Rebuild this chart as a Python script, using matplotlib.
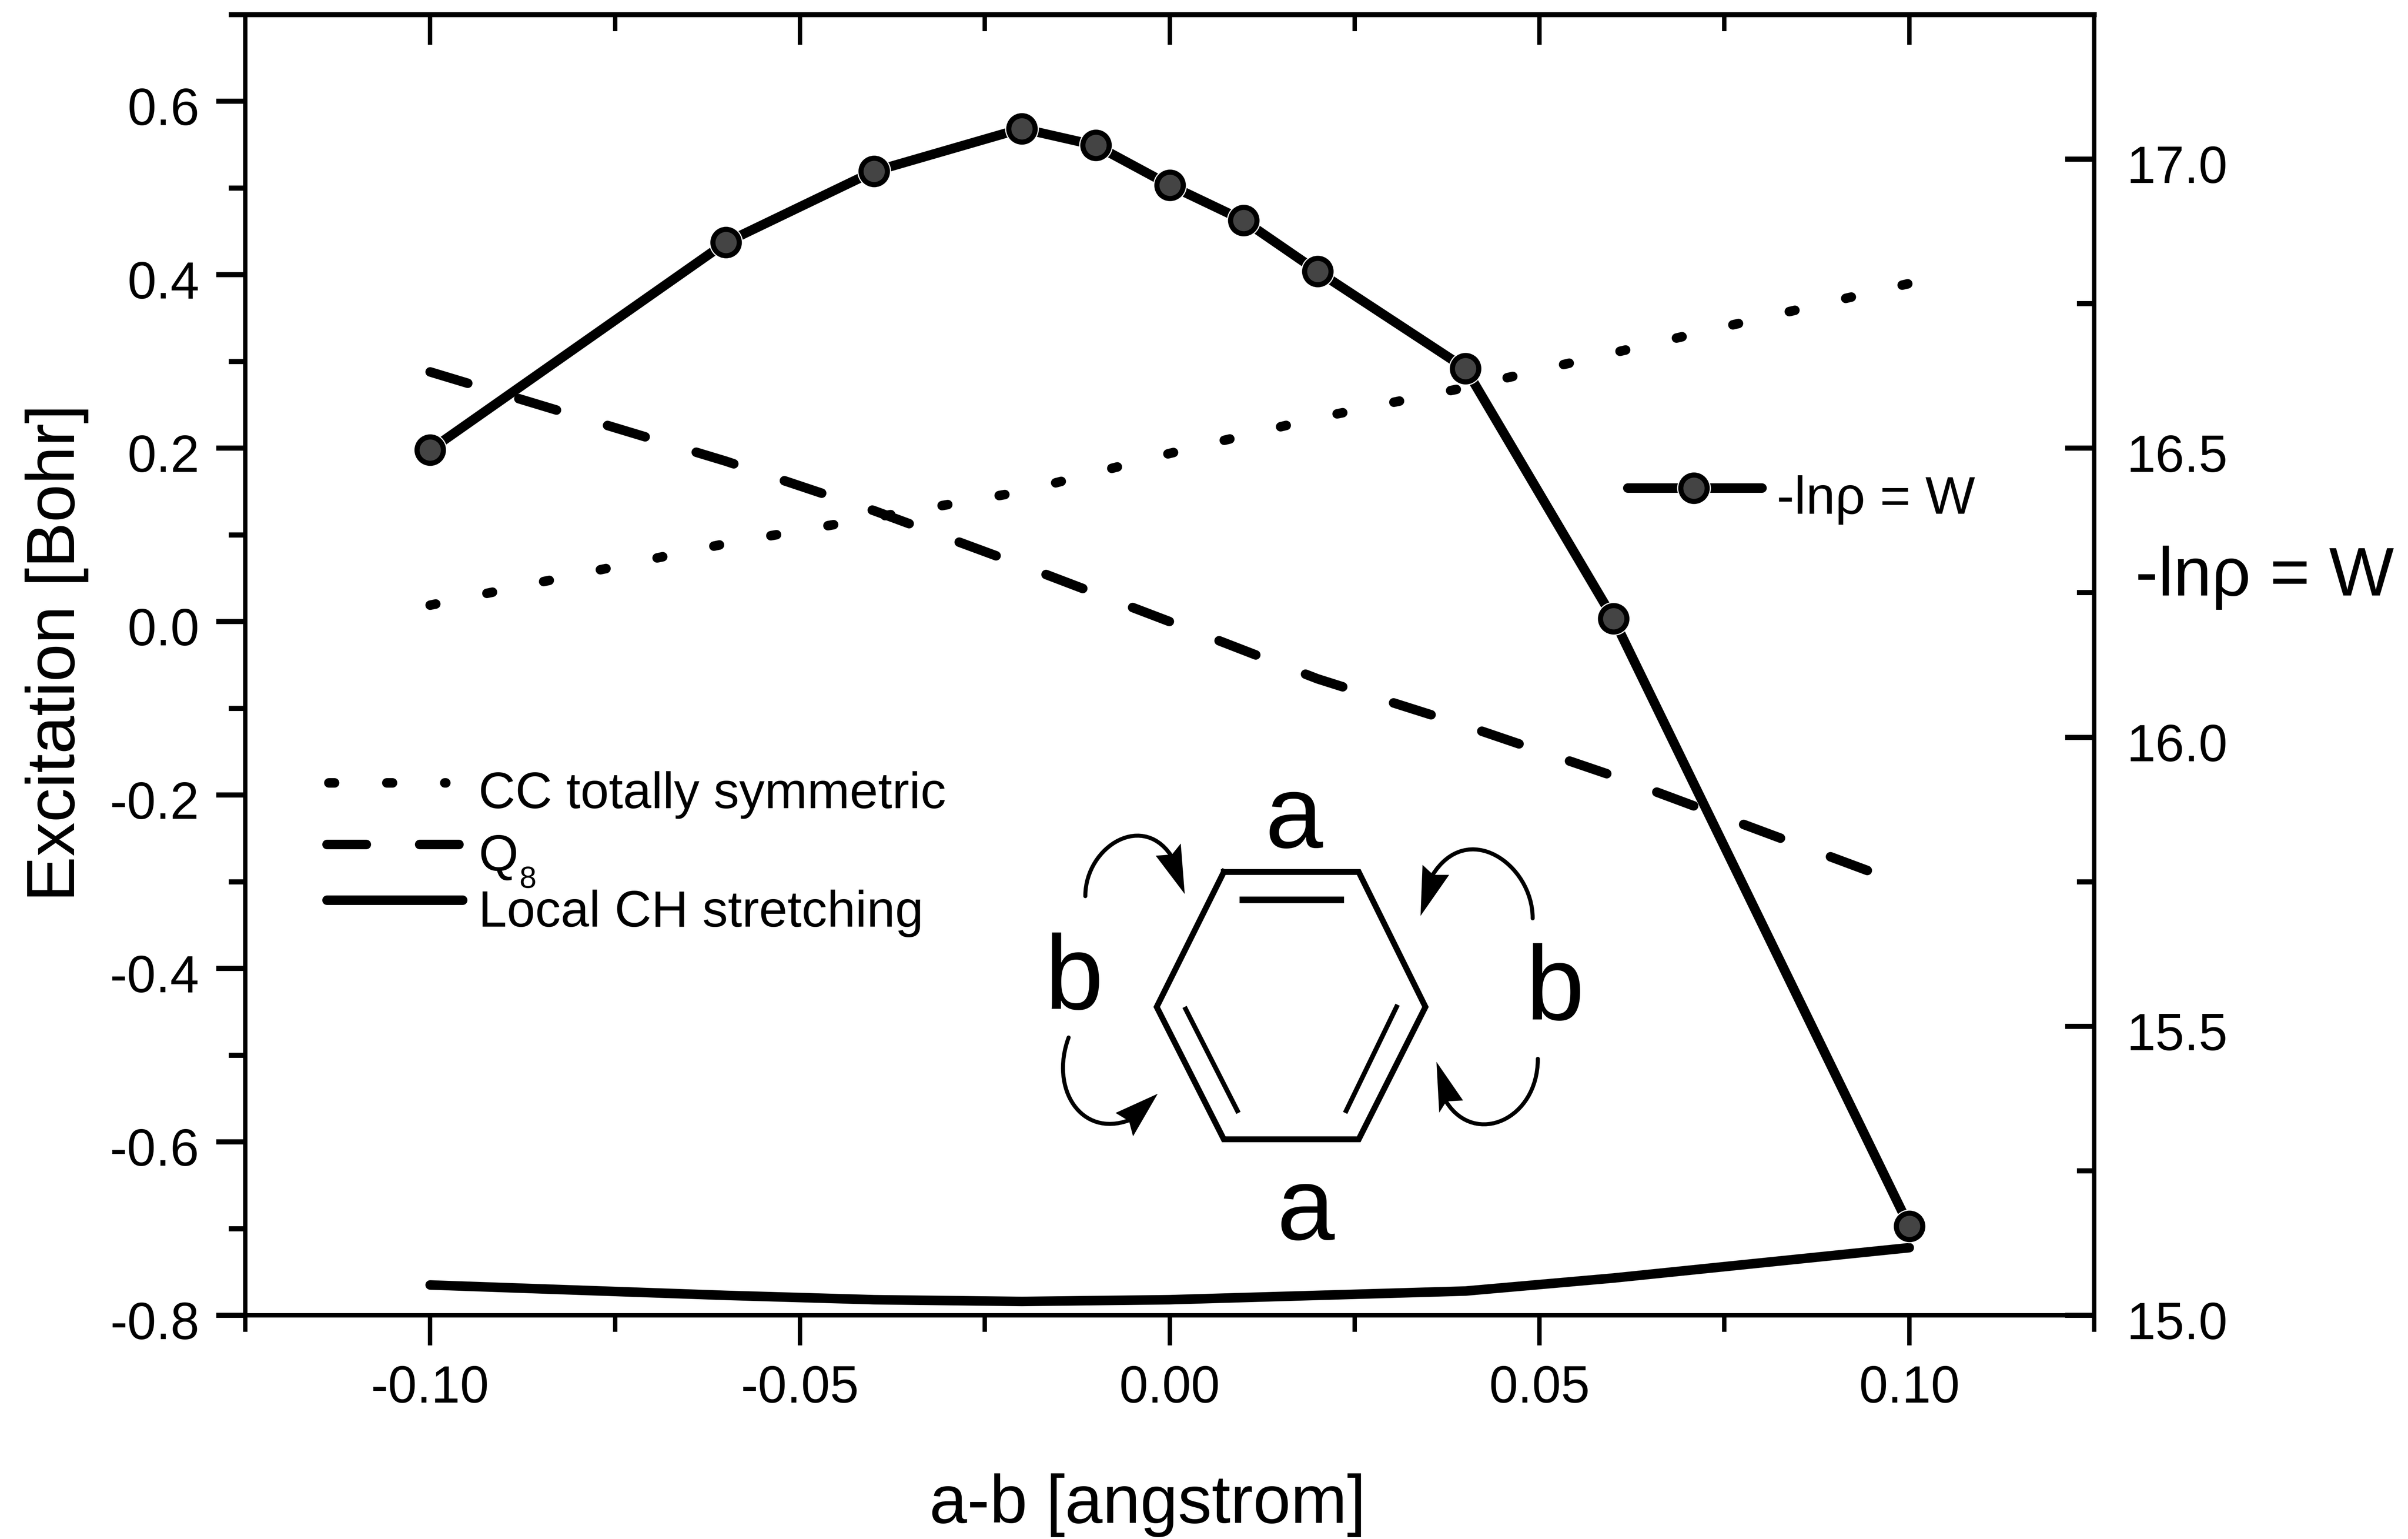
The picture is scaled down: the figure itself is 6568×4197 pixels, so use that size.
import numpy as np
import matplotlib
matplotlib.use('Agg')
import matplotlib.pyplot as plt
from matplotlib.lines import Line2D
from matplotlib.patches import PathPatch, Polygon
from matplotlib.path import Path
from matplotlib.transforms import ScaledTranslation

plt.rcParams['font.family'] = ['Liberation Sans', 'DejaVu Sans']
plt.rcParams['axes.unicode_minus'] = False

W, H, DPI = 6568, 4197, 300

# Data
x_w = [-0.10, -0.06, -0.04, -0.02, -0.01, 0.00, 0.01, 0.02, 0.04, 0.06, 0.10]
y_w = [16.497, 16.856, 16.979, 17.053, 17.024, 16.955, 16.894, 16.806, 16.638, 16.205, 15.154]

x_modes = [-0.10, -0.06, -0.04, -0.02, 0.00, 0.02, 0.04, 0.06, 0.10]
y_cc = [0.019, 0.090, 0.120, 0.150, 0.194, 0.235, 0.270, 0.310, 0.390]
y_q8 = [0.288, 0.185, 0.128, 0.065, 0.000, -0.066, -0.120, -0.178, -0.305]
y_ch = [-0.765, -0.777, -0.782, -0.784, -0.782, -0.777, -0.772, -0.757, -0.722]

x_major = [-0.10, -0.05, 0.00, 0.05, 0.10]
x_major_labels = ['-0.10', '-0.05', '0.00', '0.05', '0.10']
x_minor = [-0.125, -0.075, -0.025, 0.025, 0.075, 0.125]
x_minor_top = [-0.075, -0.025, 0.025, 0.075]
y_major = [-0.8, -0.6, -0.4, -0.2, 0.0, 0.2, 0.4, 0.6]
y_major_labels = ['-0.8', '-0.6', '-0.4', '-0.2', '0.0', '0.2', '0.4', '0.6']
y_minor = [-0.7, -0.5, -0.3, -0.1, 0.1, 0.3, 0.5, 0.7]
w_major = [15.0, 15.5, 16.0, 16.5, 17.0]
w_major_labels = ['15.0', '15.5', '16.0', '16.5', '17.0']
w_minor = [15.25, 15.75, 16.25, 16.75]

legend_labels = ['CC totally symmetric', 'Q', 'Local CH stretching']


def pt(px):
    return px * 72.0 / DPI


def fig_xy(x, y):
    return x / W, 1 - y / H


fig = plt.figure(figsize=(W / DPI, H / DPI), dpi=DPI)
L, R, T, B = 669, 5712, 40, 3587
ax = fig.add_axes([L / W, 1 - B / H, (R - L) / W, (B - T) / H])
ax_top = ax.twiny()
ax_w = ax.twinx()

LW = pt(26)
dash_q8 = (0, (4.12, 5.6))
dot_cc = (0, (0.6, 5.48))

# kurven
ax.plot(x_modes, y_cc, color='k', lw=LW, ls=dot_cc, dash_capstyle='round')
ax.plot(x_modes, y_q8, color='k', lw=LW, ls=dash_q8, dash_capstyle='round')
ax.plot(x_modes, y_ch, color='k', lw=LW, solid_capstyle='round')

ax_w.plot(x_w, y_w, color='k', lw=LW, solid_capstyle='round')
ax_w.plot(x_w, y_w, ls='none', marker='o', ms=pt(92), mfc='w', mec='none')
ax_w.plot(x_w, y_w, ls='none', marker='o', ms=pt(72), mfc='#444444', mec='k', mew=pt(14))

ax.set_xlim(-0.125, 0.125)
ax.set_ylim(-0.8, 0.7)
ax_top.set_xlim(-0.125, 0.125)
ax_w.set_ylim(15.0, 17.25)

ax.set_xticks(x_major, x_major_labels)
ax.set_xticks(x_minor, minor=True)
ax.set_yticks(y_major, y_major_labels)
ax.set_yticks(y_minor, minor=True)
ax_top.set_xticks(x_major, [])
ax_top.set_xticks(x_minor_top, minor=True)
ax_w.set_yticks(w_major, w_major_labels)
ax_w.set_yticks(w_minor, minor=True)

FS_TICK = 34
ax.tick_params(axis='x', which='major', direction='out', length=pt(82), width=pt(12), pad=pt(52), labelsize=FS_TICK)
ax.tick_params(axis='x', which='minor', direction='out', length=pt(45), width=pt(12))
ax.tick_params(axis='y', which='major', direction='out', length=pt(79), width=pt(14), pad=pt(46), labelsize=FS_TICK)
ax.tick_params(axis='y', which='minor', direction='out', length=pt(45), width=pt(14))
ax_top.tick_params(axis='x', which='major', direction='in', length=pt(82), width=pt(12))
ax_top.tick_params(axis='x', which='minor', direction='in', length=pt(45), width=pt(12))
ax_w.tick_params(axis='y', which='major', direction='in', length=pt(79), width=pt(14), pad=pt(88), labelsize=FS_TICK)
ax_w.tick_params(axis='y', which='minor', direction='in', length=pt(47), width=pt(14))

# Labels der y-Achsen sitzen etwas unter dem Tick
shift = ScaledTranslation(0, -13 / DPI, fig.dpi_scale_trans)
for lab in ax.get_yticklabels() + ax_w.get_yticklabels():
    lab.set_transform(lab.get_transform() + shift)

for a in (ax, ax_top, ax_w):
    for name, s in a.spines.items():
        s.set_linewidth(pt(14) if name == 'top' else pt(12))

ax.set_xlabel('a-b [angstrom]', fontsize=44.3, va='baseline')
ax.xaxis.set_label_coords((3130 - L) / (R - L), (B - 4153) / (B - T))
ax.set_ylabel('Excitation [Bohr]', fontsize=44.7, va='baseline')
ax.yaxis.set_label_coords((203 - L) / (R - L), (B - 1781) / (B - T))
ax_w.set_ylabel('-ln\u03c1 = W', fontsize=45, rotation=0, ha='left', va='baseline')
ax_w.yaxis.set_label_coords((5824 - L) / (R - L), (B - 1624) / (B - T))


def fig_line(xs, ys, **kw):
    px, py = zip(*[fig_xy(x, y) for x, y in zip(xs, ys)])
    fig.add_artist(Line2D(px, py, transform=fig.transFigure, color='k', **kw))


def fig_text(x, y, s, size, ha='left'):
    fx, fy = fig_xy(x, y)
    fig.text(fx, fy, s, fontsize=size, ha=ha, va='baseline')


# Legende links
fig_line([897, 1216], [2135, 2135], lw=LW, ls=dot_cc, dash_capstyle='round')
fig_line([892, 1262], [2303, 2303], lw=LW, ls=dash_q8, dash_capstyle='round')
fig_line([892, 1262], [2455, 2455], lw=LW, solid_capstyle='round')
fig_text(1305, 2204, legend_labels[0], 33.4)
fig_text(1305, 2375, legend_labels[1], 33.4)
fig_text(1416, 2421, '8', 20)
fig_text(1305, 2527, legend_labels[2], 33.4)

# Legende rechts
fig_line([4440, 4806], [1331, 1331], lw=LW, solid_capstyle='round')
fx, fy = fig_xy(4620, 1331)
fig.add_artist(Line2D([fx], [fy], transform=fig.transFigure, marker='o', ms=pt(92), mfc='w', mec='none', ls='none'))
fig.add_artist(Line2D([fx], [fy], transform=fig.transFigure, marker='o', ms=pt(72), mfc='#444444', mec='k', mew=pt(14), ls='none'))
fig_text(4846, 1401, '-ln\u03c1 = W', 34.5)

# Benzolring
hx = [3338, 3706, 3888, 3706, 3338, 3155, 3338]
hy = [2378, 2378, 2746, 3107, 3107, 2746, 2378]
fig_line(hx, hy, lw=pt(16), solid_joinstyle='miter')
fig_line([3381, 3666], [2454, 2454], lw=pt(18), solid_capstyle='butt')
fig_line([3231, 3378], [2746, 3035], lw=pt(13), solid_capstyle='butt')
fig_line([3812, 3669], [2740, 3035], lw=pt(13), solid_capstyle='butt')

fig_text(3530, 2311, 'a', 68, ha='center')
fig_text(3562, 3380, 'a', 68, ha='center')
fig_text(2929, 2751, 'b', 69, ha='center')
fig_text(4241, 2780, 'b', 69, ha='center')


def z(zx, zy):
    # Punkte aus dem Ausschnitt um den Ring
    return fig_xy(2700 + zx / 0.922, 2050 + zy / 1.206)


def curved_arrow(p0, c1, c2, p3, head):
    path = Path([z(*p0), z(*c1), z(*c2), z(*p3)], [Path.MOVETO, Path.CURVE4, Path.CURVE4, Path.CURVE4])
    fig.add_artist(PathPatch(path, fc='none', ec='k', lw=pt(11), capstyle='round', transform=fig.transFigure))
    fig.add_artist(Polygon([z(*p) for p in head], closed=True, fc='k', ec='none', transform=fig.transFigure))


curved_arrow((240, 475), (240, 310), (390, 190), (462, 355), [(490, 468), (417, 342), (458, 338), (480, 302)])
curved_arrow((1365, 548), (1365, 370), (1200, 220), (1112, 408), [(1083, 540), (1155, 405), (1115, 405), (1088, 372)])
curved_arrow((1378, 1010), (1378, 1210), (1220, 1300), (1148, 1152), [(1123, 1020), (1190, 1147), (1148, 1150), (1130, 1187)])
curved_arrow((198, 940), (150, 1110), (230, 1270), (350, 1212), [(422, 1125), (316, 1188), (350, 1215), (360, 1265)])

fig.savefig('out.png', dpi=DPI)
